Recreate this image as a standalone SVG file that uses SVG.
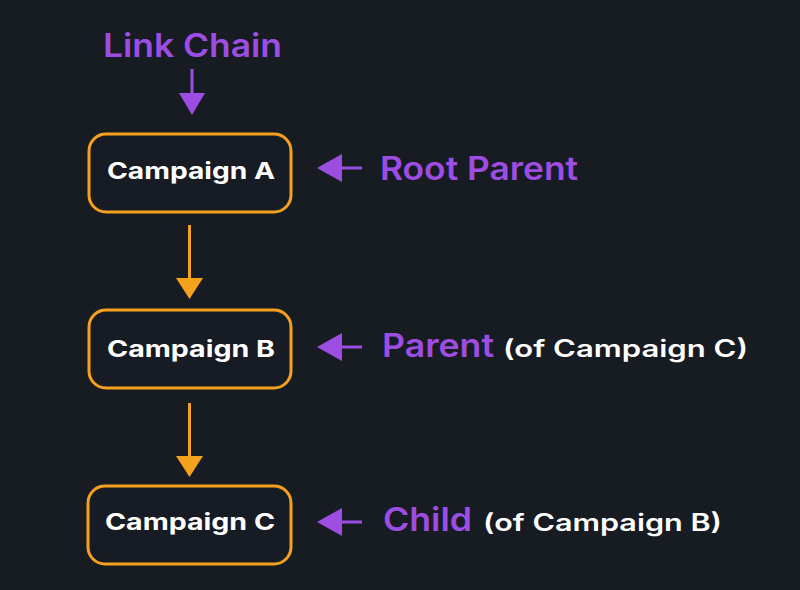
<svg xmlns="http://www.w3.org/2000/svg" width="800" height="590" viewBox="0 0 800 590">
<defs>
<style>
.box{fill:#171b23;stroke:#f6a11d;stroke-width:3}
.lbl{font-family:Inter,"Open Sans",sans-serif;font-weight:700;font-size:23px;fill:#ffffff}
.pur{font-family:Inter,"Open Sans",sans-serif;font-weight:600;font-size:32px;fill:#9e4de3}
.wht{font-family:Inter,"Open Sans",sans-serif;font-weight:600;font-size:24px;fill:#ffffff}
.ol{stroke:#f6a11d;stroke-width:3;fill:none}
.pl{stroke:#9e4de3;stroke-width:3;fill:none}
</style>
</defs>
<rect width="800" height="590" fill="#171b22"/>
<text class="pur" x="103" y="57" textLength="179" lengthAdjust="spacingAndGlyphs">Link Chain</text>
<g id="connectors">
<line class="pl" x1="192" y1="69" x2="192" y2="96"/>
<polygon points="179,93 205,93 192,115" fill="#9e4de3"/>
<line class="ol" x1="189.5" y1="225" x2="189.5" y2="280"/>
<polygon points="176,278 203,278 189.5,299" fill="#f6a11d"/>
<line class="ol" x1="189.5" y1="403" x2="189.5" y2="458"/>
<polygon points="176,456 203,456 189.5,477" fill="#f6a11d"/>
<line class="pl" x1="338" y1="168" x2="362" y2="168"/>
<polygon points="317,168 342,154 342,182" fill="#9e4de3"/>
<line class="pl" x1="338" y1="347" x2="362" y2="347"/>
<polygon points="317,347 342,333 342,361" fill="#9e4de3"/>
<line class="pl" x1="338" y1="522" x2="362" y2="522"/>
<polygon points="317,522 342,508 342,536" fill="#9e4de3"/>
</g>
<g id="campaignA">
<rect class="box" x="89" y="134" width="202" height="78" rx="17"/>
<text class="lbl" x="107" y="179" textLength="168" lengthAdjust="spacingAndGlyphs">Campaign A</text>
</g>
<g id="campaignB">
<rect class="box" x="89" y="310" width="202" height="78" rx="17"/>
<text class="lbl" x="107" y="357" textLength="168" lengthAdjust="spacingAndGlyphs">Campaign B</text>
</g>
<g id="campaignC">
<rect class="box" x="88" y="486" width="203" height="78" rx="17"/>
<text class="lbl" x="105" y="530" textLength="170" lengthAdjust="spacingAndGlyphs">Campaign C</text>
</g>
<g id="rootParent">
<text class="pur" x="380" y="180" textLength="198" lengthAdjust="spacingAndGlyphs">Root Parent</text>
</g>
<g id="parent">
<text class="pur" x="382" y="357" textLength="112" lengthAdjust="spacingAndGlyphs">Parent</text>
<text class="wht" x="503" y="357" textLength="245" lengthAdjust="spacingAndGlyphs">(of Campaign C)</text>
</g>
<g id="child">
<text class="pur" x="383" y="531" textLength="89" lengthAdjust="spacingAndGlyphs">Child</text>
<text class="wht" x="483" y="531" textLength="239" lengthAdjust="spacingAndGlyphs">(of Campaign B)</text>
</g>
</svg>
